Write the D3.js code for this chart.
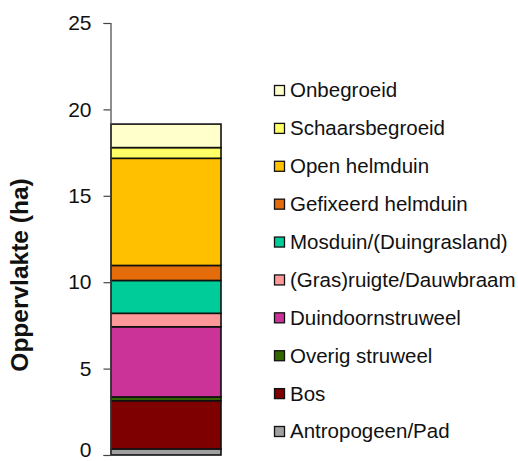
<!DOCTYPE html>
<html>
<head>
<meta charset="utf-8">
<script src="https://cdn.jsdelivr.net/npm/d3@7"></script>
<style>
  html, body { margin: 0; padding: 0; background: #fff; }
  svg { display: block; font-family: Arial, "Liberation Sans", sans-serif; }
</style>
</head>
<body>
<svg id="chart" width="518" height="461"></svg>
<script>
// Vegetation types, bottom of the stack first
const categories = [
  "Antropogeen/Pad", "Bos", "Overig struweel", "Duindoornstruweel",
  "(Gras)ruigte/Dauwbraam", "Mosduin/(Duingrasland)", "Gefixeerd helmduin",
  "Open helmduin", "Schaarsbegroeid", "Onbegroeid"
];
// Area per type (ha)
const areas = [0.35, 2.79, 0.22, 4.06, 0.78, 1.90, 0.87, 6.20, 0.62, 1.36];
const colors = [
  "#A0A0A0", "#7F0000", "#336600", "#CC3399",
  "#FF9999", "#00CC99", "#E46C0A", "#FFC000", "#FFFF66", "#FFFFCC"
];
const yTicks = [0, 5, 10, 15, 20, 25];
const barName = ["Totaal"];

const svg = d3.select("#chart");

const y = d3.scaleLinear().domain([0, 25]).range([455, 23]);
const x = d3.scaleBand().domain(barName).range([111, 221]).padding(0);

// Stack the areas into one column
const row = { name: barName[0] };
categories.forEach((c, i) => { row[c] = areas[i]; });
const stacked = d3.stack().keys(categories)([row]);

svg.append("g")
  .selectAll("rect")
  .data(stacked)
  .join("rect")
    .attr("x", d => x(d[0].data.name))
    .attr("width", x.bandwidth())
    .attr("y", d => y(d[0][1]))
    .attr("height", d => y(d[0][0]) - y(d[0][1]))
    .attr("fill", (d, i) => colors[i])
    .attr("stroke", "#111")
    .attr("stroke-width", 1.6);

// Value axis
const yAxis = d3.axisLeft(y)
  .tickValues(yTicks)
  .tickSize(7)
  .tickPadding(12)
  .tickFormat(d3.format("d"));

const ga = svg.append("g")
  .attr("transform", "translate(110.5,0)")
  .call(yAxis);
ga.select(".domain").attr("stroke", "#444").attr("stroke-width", 1.2);
ga.selectAll(".tick line").attr("stroke", "#444").attr("stroke-width", 1.2);
ga.selectAll(".tick text")
  .attr("fill", "#111")
  .style("font-size", "21px")
  .style("font-family", "Arial, 'Liberation Sans', sans-serif");
// keep the lowest label inside the bottom edge
ga.selectAll(".tick text").filter(d => d === 0).attr("dy", "0.06em");

// Axis title
svg.append("text")
  .attr("transform", "translate(28,275) rotate(-90)")
  .attr("text-anchor", "middle")
  .style("font-size", "24.5px")
  .style("font-weight", "bold")
  .attr("fill", "#111")
  .text("Oppervlakte (ha)");

// Legend, top entry is the top of the stack
const legendOrder = categories.map((c, i) => i).reverse();
const ly = d3.scalePoint().domain(legendOrder).range([90, 431]);

const lg = svg.append("g")
  .selectAll("g")
  .data(legendOrder)
  .join("g")
    .attr("transform", i => `translate(274,${ly(i)})`);

lg.append("rect")
  .attr("x", 0.5)
  .attr("y", -4.5)
  .attr("width", 10)
  .attr("height", 10)
  .attr("fill", i => colors[i])
  .attr("stroke", "#111")
  .attr("stroke-width", 1.3);

lg.append("text")
  .attr("x", 16)
  .attr("dy", "0.36em")
  .style("font-size", "20.5px")
  .attr("fill", "#111")
  .text(i => categories[i]);
</script>
</body>
</html>
